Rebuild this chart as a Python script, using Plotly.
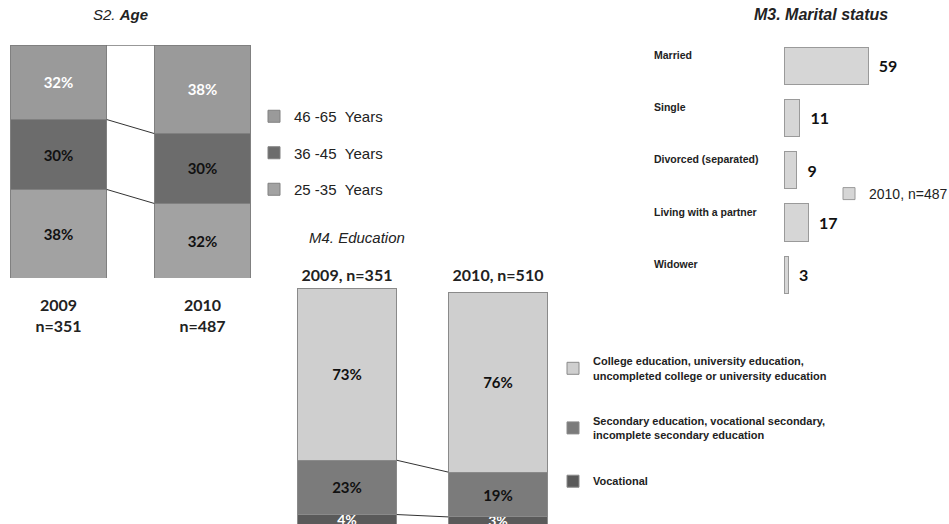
import numpy as np
import plotly.graph_objects as go

W, H = 949, 524

# S2. Age
age_years = ['2009<br>n=351', '2010<br>n=487']
age_groups = ['25&nbsp;-35&nbsp;&nbsp;Years', '36&nbsp;-45&nbsp;&nbsp;Years', '46&nbsp;-65&nbsp;&nbsp;Years']
age_25_35 = [38, 32]
age_36_45 = [30, 30]
age_46_65 = [32, 38]

# M4. Education
edu_years = ['2009, n=351', '2010, n=510']
edu_groups = ['Vocational',
              'Secondary education, vocational secondary,<br>incomplete secondary education',
              'College education, university education,<br>uncompleted college or university education']
edu_vocational = [4, 3]
edu_secondary = [23, 19]
edu_college = [73, 76]

# M3. Marital status
marital_status = ['Married', 'Single', 'Divorced (separated)', 'Living with a partner', 'Widower']
marital_2010 = [59, 11, 9, 17, 3]

_LABEL_FONT = 'Lato, Open Sans, sans-serif'
_TEXT_FONT = 'Liberation Sans, Arial, sans-serif'
_TITLE_FONT = 'Liberation Sans Narrow, Arial Narrow, Liberation Sans, Arial'


def px_x(p):
    return p / W


def px_y(p):
    return 1 - p / H


fig = go.Figure()

# ---- Age stacked bars
age_w = 0.67
age_series = [age_25_35, age_36_45, age_46_65]
age_colors = ['#a2a2a2', '#6c6c6c', '#9a9a9a']
age_text = ['#111111', '#111111', '#ffffff']
for i, (name, vals) in enumerate(zip(age_groups, age_series)):
    fig.add_trace(go.Bar(
        x=[0, 1], y=vals, width=age_w, name=name,
        marker=dict(color=age_colors[i], line=dict(color='#808080', width=1)),
        text=[f'{v}%' for v in vals], textposition='inside', insidetextanchor='middle',
        textfont=dict(family=_LABEL_FONT, size=15, color=age_text[i], weight='bold'),
        constraintext='none', xaxis='x', yaxis='y',
        legend='legend', legendgroup=f'age{i}', legendrank=3 - i,
    ))
age_cum = np.cumsum(np.array(age_series), axis=0)
for row in age_cum:
    fig.add_trace(go.Scatter(
        x=[age_w / 2, 1 - age_w / 2], y=list(row), mode='lines',
        line=dict(color='#333333', width=1), showlegend=False,
        hoverinfo='skip', xaxis='x', yaxis='y',
    ))

# ---- Education stacked bars
edu_w = 0.66
edu_series = [edu_vocational, edu_secondary, edu_college]
edu_colors = ['#5a5a5a', '#7b7b7b', '#cfcfcf']
edu_text = ['#ffffff', '#111111', '#111111']
for i, (name, vals) in enumerate(zip(edu_groups, edu_series)):
    fig.add_trace(go.Bar(
        x=[0, 1], y=vals, width=edu_w, name=name,
        marker=dict(color=edu_colors[i], line=dict(color='#8a8a8a', width=1)),
        text=[f'{v}%' for v in vals], textposition='inside', insidetextanchor='middle',
        textfont=dict(family=_LABEL_FONT, size=15 if i else 14, color=edu_text[i], weight='bold'),
        constraintext='none', xaxis='x2', yaxis='y2',
        legend='legend2', legendgroup=f'edu{i}', legendrank=3 - i,
    ))
edu_cum = np.cumsum(np.array(edu_series), axis=0)[:-1]
for row in edu_cum:
    fig.add_trace(go.Scatter(
        x=[edu_w / 2, 1 - edu_w / 2], y=list(row), mode='lines',
        line=dict(color='#333333', width=1), showlegend=False,
        hoverinfo='skip', xaxis='x2', yaxis='y2',
    ))

# ---- Marital status horizontal bars
fig.add_trace(go.Bar(
    x=marital_2010, y=marital_status, orientation='h', width=0.71,
    name='2010, n=487',
    marker=dict(color='#d6d6d6', line=dict(color='#9a9a9a', width=1)),
    text=[f'  {v}' for v in marital_2010], textposition='outside',
    textfont=dict(family=_LABEL_FONT, size=16, color='#111111', weight='bold'),
    cliponaxis=False, xaxis='x3', yaxis='y3', legend='legend3',
))

annotations = [
    dict(text='<i>S2.</i> <b><i>Age</i></b>', x=px_x(120), y=px_y(15), size=15),
    dict(text='<b><i>M3. Marital status</i></b>', x=px_x(821), y=px_y(15), size=16),
    dict(text='<i>M4. Education</i>', x=px_x(357), y=px_y(238), size=15),
]
annotations = [dict(text=a['text'], x=a['x'], y=a['y'], xref='paper', yref='paper',
                    showarrow=False, xanchor='center', yanchor='middle',
                    font=dict(family=_TITLE_FONT, size=a['size'], color='#222222'))
               for a in annotations]
for s in marital_status:
    annotations.append(dict(
        text=f'<b>{s}</b>', x=px_x(652), y=s, xref='paper', yref='y3', yshift=11,
        xanchor='left', yanchor='middle', showarrow=False,
        font=dict(family=_TEXT_FONT, size=10.5, color='#222222'),
    ))

hidden = dict(showgrid=False, zeroline=False, showticklabels=False,
              ticks='', showline=False, fixedrange=True)


def legend_at(xp, yp, size, gap=10, weight='normal'):
    return dict(x=px_x(xp), y=px_y(yp), xanchor='left', yanchor='middle',
                bgcolor='rgba(0,0,0,0)', tracegroupgap=gap, traceorder='grouped',
                font=dict(family=_TEXT_FONT, size=size, color='#222222', weight=weight))


fig.update_layout(
    width=W, height=H, autosize=False,
    margin=dict(l=0, r=0, t=0, b=0, autoexpand=False),
    paper_bgcolor='white', plot_bgcolor='white',
    barmode='stack', showlegend=True,
    xaxis=dict(hidden, domain=[0, px_x(285)], range=[-58.5 / 144, (285 - 58.5) / 144],
               showticklabels=True, tickvals=[0, 1], ticktext=[f'<b>{t}</b>' for t in age_years],
               tickfont=dict(family=_LABEL_FONT, size=16, color='#222222'),
               ticklabelstandoff=16, anchor='y'),
    yaxis=dict(hidden, domain=[px_y(278), px_y(45)], range=[0, 100], anchor='x'),
    xaxis2=dict(hidden, domain=[px_x(290), px_x(560)], range=[-57 / 151, 213 / 151],
                showticklabels=True, side='top', tickvals=[0, 1],
                ticktext=[f'<b>{t}</b>' for t in edu_years],
                tickfont=dict(family=_LABEL_FONT, size=16, color='#222222'),
                ticklabelstandoff=3, anchor='y2'),
    yaxis2=dict(hidden, domain=[0, px_y(288)], range=[0, 100], anchor='x2'),
    xaxis3=dict(hidden, domain=[px_x(784), 1], range=[0, 165 / 1.424], anchor='y3'),
    yaxis3=dict(hidden, domain=[px_y(301), px_y(39.5)], autorange='reversed',
                categoryorder='array', categoryarray=marital_status, anchor='x3'),
    legend=legend_at(254, 153, 15, gap=14),
    legend2=legend_at(553, 422, 11, gap=28, weight='bold'),
    legend3=legend_at(829, 194, 14),
    annotations=annotations,
)

fig.write_html('out.html', config={'displayModeBar': False, 'responsive': False},
               post_script="document.body.style.margin = '0';")
